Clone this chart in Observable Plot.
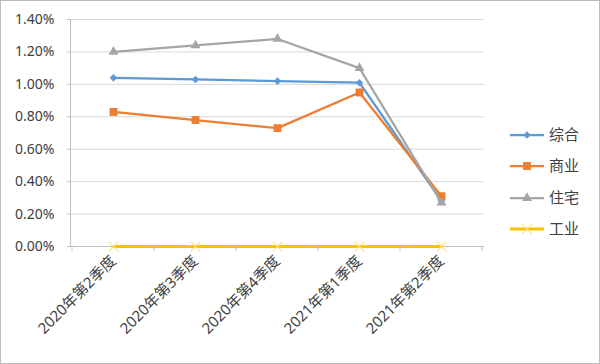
<!DOCTYPE html>
<html>
<head>
<meta charset="utf-8">
<script src="https://cdn.jsdelivr.net/npm/d3@7"></script>
<script src="https://cdn.jsdelivr.net/npm/@observablehq/plot@0.6"></script>
<style>
  html, body { margin: 0; padding: 0; background: #fff; }
  #chart svg { display: block; outline: 1px solid #bcbcbc; outline-offset: -1px; background: #fff; }
</style>
</head>
<body>
<div id="chart"></div>
<script>
const categories = ["2020年第2季度", "2020年第3季度", "2020年第4季度", "2021年第1季度", "2021年第2季度"];
const seriesNames = ["综合", "商业", "住宅", "工业"];
const zonghe  = [0.0104, 0.0103, 0.0102, 0.0101, 0.0028];
const shangye = [0.0083, 0.0078, 0.0073, 0.0095, 0.0031];
const zhuzhai = [0.0120, 0.0124, 0.0128, 0.0110, 0.0027];
const gongye  = [0, 0, 0, 0, 0];
const yTicks = [0, 0.002, 0.004, 0.006, 0.008, 0.010, 0.012, 0.014];
const colors = ["#5B9BD5", "#ED7D31", "#A5A5A5", "#FFC000"];

const seriesValues = [zonghe, shangye, zhuzhai, gongye];
const data = seriesNames.flatMap((s, i) => categories.map((c, j) => ({series: s, cat: c, value: seriesValues[i][j]})));
const bySeries = s => data.filter(d => d.series === s);

const font = '"Noto Sans", "Noto Sans CJK SC", sans-serif';
const textColor = "#404040";
const pct = d => (d * 100).toFixed(2) + "%";
const rs = [3.4, 5, 4.8, 4.5];

const plot = Plot.plot({
  width: 600,
  height: 364,
  marginLeft: 70,
  marginRight: 116,
  marginTop: 19,
  marginBottom: 118,
  x: {type: "band", domain: categories, padding: 0, label: null},
  y: {domain: [0, 0.014], label: null},
  style: {fontFamily: font, fontSize: "14px", color: textColor, background: "#fff"},
  marks: [
    Plot.gridY(yTicks, {stroke: "#d9d9d9", strokeOpacity: 1}),
    Plot.frame({anchor: "left", stroke: "#bfbfbf"}),
    Plot.ruleY([0], {stroke: "#bfbfbf"}),
    Plot.axisY({ticks: yTicks, tickFormat: pct, tickSize: 3, tickPadding: 13, stroke: "#bfbfbf", fill: textColor, fontSize: 14}),
    Plot.axisX({tickSize: 0, tickRotate: -45, tickPadding: 12, fill: textColor, fontSize: 15}),
    Plot.lineY(bySeries("综合"), {x: "cat", y: "value", stroke: colors[0], strokeWidth: 2.25}),
    Plot.dot(bySeries("综合"), {x: "cat", y: "value", symbol: "diamond2", r: rs[0], fill: colors[0]}),
    Plot.lineY(bySeries("商业"), {x: "cat", y: "value", stroke: colors[1], strokeWidth: 2.25}),
    Plot.dot(bySeries("商业"), {x: "cat", y: "value", symbol: "square2", r: rs[1], fill: colors[1]}),
    Plot.lineY(bySeries("住宅"), {x: "cat", y: "value", stroke: colors[2], strokeWidth: 2.25}),
    Plot.dot(bySeries("住宅"), {x: "cat", y: "value", symbol: "triangle2", r: rs[2], fill: colors[2]}),
    Plot.lineY(bySeries("工业"), {x: "cat", y: "value", stroke: colors[3], strokeWidth: 3}),
    Plot.dot(bySeries("工业"), {x: "cat", y: "value", symbol: "times", r: rs[3], stroke: "#FFE08A", strokeWidth: 1.2})
  ]
});

const svg = d3.select(plot);
svg.selectAll('g[aria-label="y-axis tick label"] text').style("font-size", "14px");
svg.selectAll('g[aria-label="x-axis tick label"] text').style("font-size", "15px");

// x-axis tick marks at band boundaries
const xs = plot.scale("x");
const y0 = plot.scale("y").apply(0);
const edges = categories.map(c => xs.apply(c)).concat([xs.apply(categories[categories.length - 1]) + xs.bandwidth]);
svg.append("g").selectAll("line").data(edges).join("line")
  .attr("x1", d => d).attr("x2", d => d)
  .attr("y1", y0).attr("y2", y0 + 5)
  .attr("stroke", "#bfbfbf");

// legend
const symbols = [d3.symbolDiamond2, d3.symbolSquare2, d3.symbolTriangle2, d3.symbolTimes];
const lg = svg.append("g").attr("font-family", font).attr("text-anchor", "start").attr("fill", textColor);
const rowY = [135, 166, 198, 229];
seriesNames.forEach((s, i) => {
  const g = lg.append("g").attr("transform", `translate(0,${rowY[i]})`);
  g.append("line").attr("x1", 510).attr("x2", 544).attr("y1", 0).attr("y2", 0)
    .attr("stroke", colors[i]).attr("stroke-width", i === 3 ? 3 : 2.25);
  const p = g.append("path").attr("transform", "translate(527,0)")
    .attr("d", d3.symbol(symbols[i], Math.PI * rs[i] * rs[i])());
  if (i === 3) p.attr("fill", "none").attr("stroke", "#FFE08A").attr("stroke-width", 1.2);
  else p.attr("fill", colors[i]);
  g.append("text").attr("x", 549).attr("y", 0).attr("dy", "0.35em").style("font-size", "15px").text(s);
});

document.getElementById("chart").appendChild(plot);
</script>
</body>
</html>
